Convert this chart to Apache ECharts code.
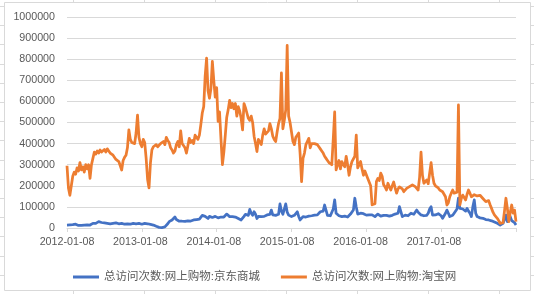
<!DOCTYPE html>
<html>
<head>
<meta charset="utf-8">
<script src="https://cdn.jsdelivr.net/npm/echarts@6/dist/echarts.min.js"></script>
<style>
html,body{margin:0;padding:0;background:#fff;}
#c{width:534px;height:294px;}
</style>
</head>
<body>
<div id="c"></div>
<script>
// Series names
const seriesNames = ['总访问次数:网上购物:京东商城', '总访问次数:网上购物:淘宝网'];
// Tick labels shown on the x axis
const tickLabels = ['2012-01-08', '2013-01-08', '2014-01-08', '2015-01-08', '2016-01-08', '2017-01-08'];
const labelEvery = 51;
const tickEvery = 52;
const firstWeek = '2012-01-08';
const weekCount = 313;

// 京东商城 weekly visits
const jd = [
14000,12000,15000,13000,16000,12000,18000,14000,12000,15000,
13000,16000,14000,12000,15000,18000,14000,20000,22000,25000,
22000,26000,30000,33000,26000,22000,24000,20000,22000,24000,
20000,18000,22000,20000,24000,18000,20000,17000,22000,20000,
18000,22000,20000,16000,18000,20000,22000,18000,20000,18000,
22000,20000,18000,22000,22000,20000,20000,18000,17000,15000,
14000,12000,8000,5000,3000,2000,2000,3000,5000,8000,
20000,30000,35000,38000,45000,52000,40000,35000,32000,34000,
32000,33000,31000,32000,34000,32000,33000,35000,38000,36000,
40000,45000,42000,50000,60000,66000,55000,48000,45000,55000,
60000,50000,45000,55000,50000,48000,55000,52000,50000,52000,
60000,66000,58000,54000,52000,54000,55000,52000,50000,45000,
40000,38000,45000,55000,65000,70000,60000,88000,70000,60000,
77000,65000,45000,55000,50000,54000,48000,55000,58000,62000,
70000,65000,85000,62000,58000,60000,55000,65000,114000,80000,
65000,70000,114000,75000,61000,58000,54000,55000,60000,68000,
77000,55000,38000,45000,54000,55000,52000,54000,56000,54000,
58000,62000,61000,60000,62000,70000,77000,72000,80000,109000,
100000,60000,54000,58000,61000,90000,133000,70000,61000,58000,
56000,54000,58000,56000,54000,52000,58000,66000,75000,85000,
141000,100000,66000,68000,70000,72000,68000,65000,61000,60000,
62000,66000,62000,58000,54000,62000,66000,64000,56000,58000,
60000,64000,60000,58000,56000,54000,60000,62000,66000,64000,
70000,101000,100000,54000,58000,61000,60000,58000,62000,70000,
77000,65000,70000,85000,75000,70000,62000,54000,58000,56000,
60000,70000,90000,101000,61000,58000,62000,65000,68000,70000,
58000,46000,55000,70000,85000,70000,54000,55000,60000,70000,
75000,90000,141000,93000,88000,90000,85000,80000,93000,80000,
70000,54000,100000,133000,70000,54000,50000,48000,46000,46000,
44000,40000,42000,38000,36000,34000,30000,28000,25000,22000,
18000,14000,18000,22000,40000,61000,30000,40000,54000,35000,
30000,25000,14000
];

// 淘宝网 weekly visits
const taobao = [
295000,190000,155000,200000,245000,265000,255000,285000,270000,310000,
275000,290000,265000,300000,280000,300000,235000,300000,330000,360000,
350000,365000,355000,370000,360000,368000,372000,360000,375000,365000,
355000,360000,345000,340000,325000,320000,315000,318000,275000,320000,
335000,345000,380000,465000,420000,405000,410000,400000,450000,535000,
430000,400000,385000,420000,405000,330000,230000,190000,310000,370000,
385000,380000,395000,385000,390000,400000,395000,410000,395000,430000,
415000,405000,380000,370000,355000,365000,395000,410000,385000,460000,
400000,395000,380000,355000,390000,425000,405000,415000,400000,440000,
430000,420000,440000,490000,545000,575000,720000,805000,650000,615000,
660000,790000,700000,620000,665000,505000,550000,420000,300000,360000,
440000,525000,560000,605000,570000,590000,565000,590000,530000,575000,
555000,520000,465000,590000,570000,545000,520000,510000,530000,500000,
435000,400000,362000,420000,425000,395000,440000,470000,445000,440000,
460000,495000,470000,435000,420000,410000,455000,495000,520000,735000,
470000,510000,560000,865000,530000,500000,495000,410000,395000,430000,
440000,450000,350000,220000,330000,355000,395000,410000,425000,380000,
400000,395000,400000,405000,395000,385000,375000,365000,355000,340000,
330000,320000,310000,305000,300000,420000,550000,275000,300000,320000,
280000,315000,300000,290000,340000,300000,250000,290000,315000,320000,
340000,440000,285000,300000,315000,280000,250000,270000,275000,235000,
240000,200000,110000,110000,115000,220000,235000,225000,260000,245000,
205000,195000,180000,212000,195000,180000,200000,218000,190000,165000,
185000,195000,196000,185000,172000,180000,188000,192000,196000,200000,
204000,198000,196000,190000,180000,240000,360000,250000,212000,220000,
228000,210000,204000,310000,250000,212000,200000,196000,190000,180000,
175000,172000,165000,148000,109000,120000,148000,165000,180000,165000,
156000,170000,583000,109000,140000,156000,150000,133000,160000,180000,
165000,148000,156000,158000,156000,152000,156000,155000,150000,140000,
133000,125000,117000,130000,110000,93000,75000,62000,55000,46000,
35000,22000,20000,25000,80000,141000,93000,30000,75000,109000,
70000,85000,30000
];

// weekly category dates
const categories = [];
(function(){
  const d0 = new Date(firstWeek + 'T00:00:00Z');
  for (let i = 0; i < weekCount; i++) {
    const d = new Date(d0.getTime() + i * 7 * 86400000);
    categories.push(d.toISOString().slice(0, 10));
  }
})();

const chart = echarts.init(document.getElementById('c'), null, {renderer: 'canvas'});
const txt = '#595959';
const grid = '#d9d9d9';
const cellLine = '#dadada';

// spreadsheet cell lines around the chart frame
const deco = [];
for (let y = 6; y < 294; y += 19.2) {
  deco.push({type: 'line', shape: {x1: 0, y1: Math.round(y) + 0.5, x2: 4, y2: Math.round(y) + 0.5}, style: {stroke: cellLine, lineWidth: 1}, silent: true});
  deco.push({type: 'line', shape: {x1: 531, y1: Math.round(y) + 0.5, x2: 534, y2: Math.round(y) + 0.5}, style: {stroke: cellLine, lineWidth: 1}, silent: true});
}
[73, 144, 215, 286, 357, 428, 499].forEach(function (x) {
  deco.push({type: 'line', shape: {x1: x + 0.5, y1: 291, x2: x + 0.5, y2: 294}, style: {stroke: cellLine, lineWidth: 1}, silent: true});
  deco.push({type: 'line', shape: {x1: x + 0.5, y1: 0, x2: x + 0.5, y2: 2}, style: {stroke: cellLine, lineWidth: 1}, silent: true});
});
deco.push({type: 'rect', shape: {x: 4.5, y: 2.5, width: 526, height: 288}, style: {fill: 'none', stroke: '#d9d9d9', lineWidth: 1}, silent: true, z: 10});

chart.setOption({
  animation: false,
  backgroundColor: '#ffffff',
  color: ['#4472C4', '#ED7D31'],
  graphic: deco,
  grid: {left: 67, right: 18, top: 17, bottom: 66, containLabel: false},
  legend: {
    data: seriesNames,
    left: 68,
    top: 265,
    icon: 'rect',
    itemWidth: 26,
    itemHeight: 3,
    itemGap: 21,
    textStyle: {color: txt, fontSize: 11.5, lineHeight: 14, fontFamily: '"Liberation Sans","Noto Sans CJK SC",sans-serif'}
  },
  xAxis: {
    type: 'category',
    data: categories,
    boundaryGap: false,
    axisLine: {lineStyle: {color: grid, width: 1}},
    axisTick: {
      show: true,
      length: 4,
      interval: function (index) { return index % tickEvery === 0; },
      lineStyle: {color: grid}
    },
    axisLabel: {
      interval: function (index) { return index % labelEvery === 0 && index / labelEvery < tickLabels.length; },
      formatter: function (value, index) {
        return (index % labelEvery === 0 && tickLabels[index / labelEvery]) ? tickLabels[index / labelEvery] : '';
      },
      color: txt,
      fontSize: 10.7,
      margin: 9,
      fontFamily: '"Liberation Sans",sans-serif'
    },
    splitLine: {show: false}
  },
  yAxis: {
    type: 'value',
    min: 0,
    max: 1000000,
    interval: 100000,
    axisLine: {show: false},
    axisTick: {show: false},
    axisLabel: {
      color: txt, fontSize: 10.7, margin: 12, fontFamily: '"Liberation Sans",sans-serif',
      formatter: function (v) { return String(v); }
    },
    splitLine: {lineStyle: {color: grid, width: 1}}
  },
  series: [
    {
      name: seriesNames[0],
      type: 'line',
      data: jd,
      showSymbol: false,
      symbol: 'none',
      lineStyle: {width: 2.75, color: '#4472C4', join: 'round'}
    },
    {
      name: seriesNames[1],
      type: 'line',
      data: taobao,
      showSymbol: false,
      symbol: 'none',
      lineStyle: {width: 2.75, color: '#ED7D31', join: 'round'}
    }
  ]
});
</script>
</body>
</html>
